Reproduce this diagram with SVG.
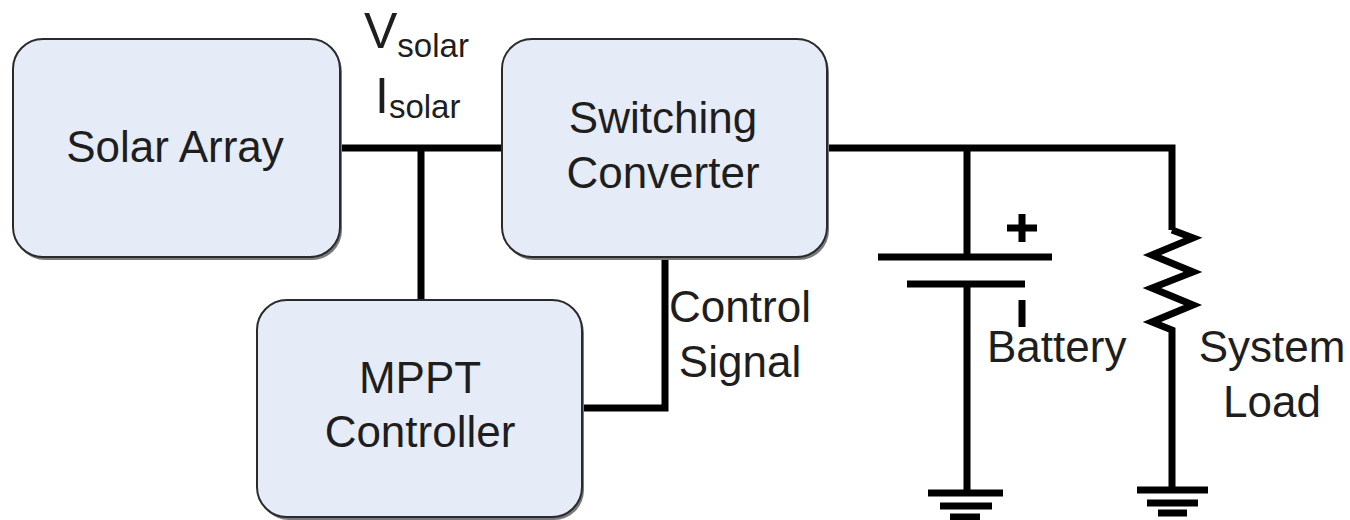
<svg xmlns="http://www.w3.org/2000/svg" width="1350" height="520" viewBox="0 0 1350 520">
<style>
.box{fill:#e6ecf7;stroke:#2a2a2a;stroke-width:2}
.shadow{fill:#7a7a7a}
.lbl{font-family:"Liberation Sans",Arial,sans-serif;font-size:44px;fill:#1e1e1e}
.c{text-anchor:middle}
.w{fill:none;stroke:#000;stroke-width:7;stroke-linejoin:miter}
</style>
<rect width="1350" height="520" fill="#fff"/>
<g id="connectors">
<path class="w" d="M340 148H503M421 148V300"/>
<path class="w" d="M827 148H1172V230"/>
<path class="w" d="M665 257V408H582"/>
<path class="w" d="M967 148V257M878 257H1052M907 284H1025M967 284V493"/>
<path class="w" d="M928 493H1003M940 506H992M950 517H980"/>
<path class="w" d="M1007 228H1037M1022 214V242M1022 300V327"/>
<path class="w" d="M1172 230L1193 238L1152 255L1193 272L1152 288L1193 305L1152 322L1172 330V490"/>
<path class="w" d="M1137 490H1208M1147 503H1198M1158 513H1187"/>
</g>
<g id="solar-array">
<rect class="shadow" x="15" y="42" width="327" height="218" rx="30"/>
<rect class="box" x="13" y="39" width="327" height="218" rx="30"/>
<text class="lbl c" x="175" y="162">Solar Array</text>
</g>
<g id="switching-converter">
<rect class="shadow" x="504" y="42" width="325" height="218" rx="30"/>
<rect class="box" x="502" y="39" width="325" height="218" rx="30"/>
<text class="lbl c" x="663" y="133">Switching</text>
<text class="lbl c" x="663" y="188">Converter</text>
</g>
<g id="mppt-controller">
<rect class="shadow" x="259" y="303" width="325" height="217" rx="30"/>
<rect class="box" x="257" y="300" width="325" height="217" rx="30"/>
<text class="lbl c" x="420" y="393">MPPT</text>
<text class="lbl c" x="420" y="447">Controller</text>
</g>
<g id="labels">
<text class="lbl" x="364" y="48" style="font-size:50px">V<tspan dy="9" style="font-size:33px">solar</tspan></text>
<text class="lbl" x="375" y="113" style="font-size:50px">I<tspan dy="5" style="font-size:33px">solar</tspan></text>
<text class="lbl c" x="740" y="322">Control</text>
<text class="lbl c" x="740" y="377">Signal</text>
<text class="lbl" x="987" y="362">Battery</text>
<text class="lbl c" x="1272" y="362">System</text>
<text class="lbl c" x="1272" y="417">Load</text>
</g>
</svg>
